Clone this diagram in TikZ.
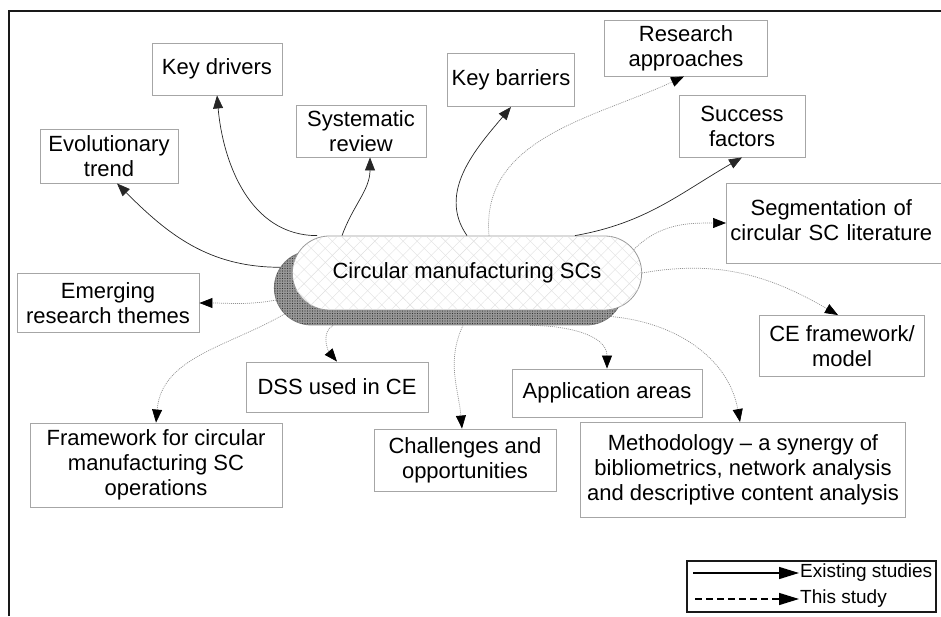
\documentclass[tikz,border=0pt]{standalone}
\usepackage{fontspec}
\setmainfont{Liberation Sans}
\usetikzlibrary{calc, shapes.misc, patterns, patterns.meta, arrows.meta}

\tikzset{
  topic/.style = {draw=gray!70, line width=0.9pt, align=center, inner sep=4pt,
    font=\fontsize{22}{25}\selectfont},
  hub/.style = {rounded rectangle, draw=gray!80, line width=0.8pt, fill=white,
    minimum width=356pt, minimum height=74pt, font=\fontsize{22}{25}\selectfont,
    postaction={pattern={Lines[angle=45,distance=10pt,line width=0.4pt]}, pattern color=gray!25},
    postaction={pattern={Lines[angle=-45,distance=10pt,line width=0.4pt]}, pattern color=gray!25}},
  hubshadow/.style = {rounded rectangle, draw=gray, line width=0.8pt, fill=gray!80,
    minimum width=356pt, minimum height=74pt,
    postaction={pattern={Dots[distance=2.5pt,radius=0.6pt]}, pattern color=black!80}},
  existing/.style = {draw=black!85, line width=0.7pt, -{Triangle[length=13pt,width=10pt]}},
  thisstudy/.style = {draw=gray!85, line width=0.7pt, dash pattern=on 1pt off 1pt,
    -{Triangle[length=13pt,width=10pt,color=black]}},
  legendtext/.style = {anchor=west, inner sep=1pt, font=\fontsize{19}{22}\selectfont},
}

\begin{document}
\begin{tikzpicture}
  \useasboundingbox (0,0) rectangle (941pt,616pt);
  \begin{scope}[x=1pt, y=1pt]
    % outer frame
    \draw[line width=2.5pt, black!90] (9,0) -- (9,605) -- (941,605);

    % centre
    \node[hubshadow] (hubshade) at (449,328) {};
    \node[hub] (hub) at (467,343) {Circular manufacturing SCs};

    % topics
    \node[topic, minimum width=138pt, minimum height=54pt] (trend) at (109,460) {Evolutionary\\trend};
    \node[topic, minimum width=130pt, minimum height=52pt] (drivers) at (217,547) {Key drivers};
    \node[topic, minimum width=130pt, minimum height=52pt] (review) at (361,485) {Systematic\\review};
    \node[topic, minimum width=127pt, minimum height=53pt] (barriers) at (511,536) {Key barriers};
    \node[topic, minimum width=163pt, minimum height=56pt] (approaches) at (686,568) {Research\\approaches};
    \node[topic, minimum width=126pt, minimum height=62pt] (success) at (742,490) {Success\\factors};
    \node[topic, anchor=west, text width=226pt, align=left, minimum height=80pt] (seg) at (726,393)
      {\noindent\begin{tabular}{@{}c@{}}Segmentation of\\circular SC literature\end{tabular}};
    \node[topic, minimum width=165pt, minimum height=61pt] (ceframe) at (842,270) {CE framework/\\model};
    \node[topic, minimum width=182pt, minimum height=59pt] (emerging) at (108,313) {Emerging\\research themes};
    \node[topic, minimum width=182pt, minimum height=50pt] (dss) at (337,229) {DSS used in CE};
    \node[topic, minimum width=190pt, minimum height=48pt] (areas) at (607,223) {Application areas};
    \node[topic, minimum width=252pt, minimum height=84pt] (opsframe) at (156,151)
      {Framework for circular\\manufacturing SC\\operations};
    \node[topic, minimum width=182pt, minimum height=62pt] (challenges) at (465,156) {Challenges and\\opportunities};
    \node[topic, minimum width=325pt, minimum height=95pt] (method) at (743,146)
      {Methodology -- a synergy of\\bibliometrics, network analysis\\and descriptive content analysis};

    % existing studies
    \draw[existing] (hubshade.173) to[out=180, in=-45] ([xshift=8pt]trend.south);
    \draw[existing] ([xshift=-150pt]hub.north) to[out=180, in=-85] (drivers.south);
    \draw[existing] ([xshift=-125pt]hub.north) to[out=70, in=-90] ([xshift=9pt]review.south);
    \draw[existing] (hub.north) to[out=125, in=-130] (barriers.south);
    \draw[existing] ([xshift=108pt]hub.north) to[out=10, in=-150] (success.south);

    % this study
    \draw[thisstudy] ([xshift=22pt]hub.north) to[out=95, in=-155] ([xshift=-2pt]approaches.south);
    \draw[thisstudy] (hub.8) to[out=45, in=180] (seg.west);
    \draw[thisstudy] (hub.east) to[out=10, in=150] ([xshift=-4pt]ceframe.north);
    \draw[thisstudy] (hubshade.-10) to[out=-5, in=100] ([xshift=-3pt]method.north);
    \draw[thisstudy] ([xshift=81pt]hubshade.south) to[out=0, in=90] (areas.north);
    \draw[thisstudy] ([xshift=14pt]hubshade.south) to[out=-115, in=95] ([xshift=-3pt]challenges.north);
    \draw[thisstudy] ([xshift=-116pt]hubshade.south) to[out=-150, in=130] (dss.north);
    \draw[thisstudy] (hubshade.189) to[out=-150, in=85] (opsframe.north);
    \draw[thisstudy] (hubshade.184) to[out=-170, in=0] (emerging.east);

    % legend
    \draw[line width=2pt, black!90] (687,4) rectangle (936,55);
    \node[legendtext] (legexisting) at (799,43) {Existing studies};
    \node[legendtext] (legthis) at (799,17) {This study};
    \coordinate (legexistingstart) at (693,43);
    \coordinate (legthisstart) at (695,17);
    \draw[line width=1.4pt, -{Triangle[length=20pt,width=12pt]}] (legexistingstart) -- (legexisting.west);
    \draw[line width=1.4pt, dash pattern=on 7pt off 4pt, -{Triangle[length=20pt,width=12pt]}] (legthisstart) -- (legthis.west);
  \end{scope}
\end{tikzpicture}
\end{document}
